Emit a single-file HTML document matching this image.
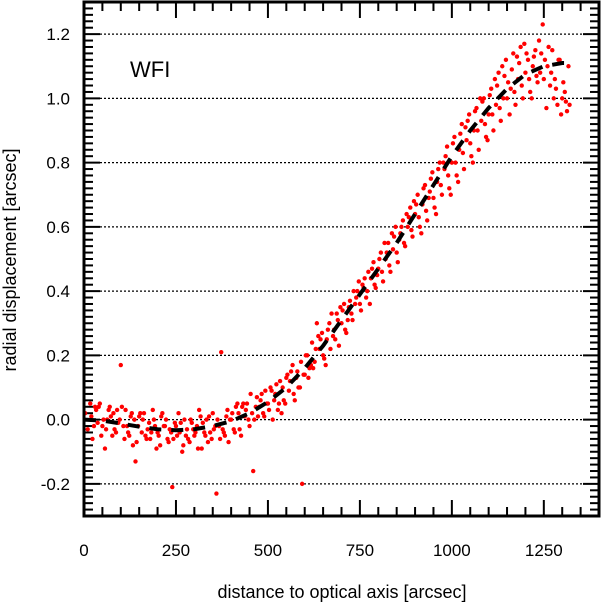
<!DOCTYPE html>
<html><head><meta charset="utf-8">
<style>
html,body{margin:0;padding:0;background:#fff;}
svg text{font-family:"Liberation Sans",Arial,sans-serif;fill:#000;}
</style></head>
<body>
<svg id="chart" width="601" height="603" viewBox="0 0 601 603" xmlns="http://www.w3.org/2000/svg">
<g id="grid"></g>
<g id="ticks"></g>
<g id="pts"></g>
<g id="model"></g>
<rect x="84" y="2" width="515" height="514" fill="none" stroke="#000" stroke-width="3"/>
<g id="labels"></g>
<text x="130" y="77" font-size="22">WFI</text>
<text x="342" y="598" font-size="18" text-anchor="middle">distance to optical axis [arcsec]</text>
<text transform="translate(16,260) rotate(-90)" font-size="18" text-anchor="middle">radial displacement [arcsec]</text>
</svg>
<script>
const xTicks=[0,250,500,750,1000,1250];
const xTickLabels=["0","250","500","750","1000","1250"];
const yTicks=[-0.2,0,0.2,0.4,0.6,0.8,1.0,1.2];
const yTickLabels=["-0.2","0.0","0.2","0.4","0.6","0.8","1.0","1.2"];
const modelX=[0,50,100,150,200,250,300,350,400,450,500,550,600,650,700,750,800,850,900,950,1000,1050,1100,1150,1200,1250,1300,1320];
const modelY=[0,-0.003,-0.012,-0.022,-0.03,-0.033,-0.03,-0.02,-0.005,0.02,0.055,0.1,0.16,0.23,0.31,0.39,0.47,0.55,0.64,0.73,0.82,0.9,0.97,1.03,1.075,1.1,1.11,1.11];
const dist=[20,27,33,40,47,53,60,67,73,80,87,93,100,107,113,120,127,133,140,147,153,160,167,173,180,187,193,200,207,213,220,227,233,240,247,253,260,267,273,280,287,293,300,307,313,320,327,333,340,347,353,360,367,373,380,387,393,400,407,413,420,427,433,440,447,453,460,467,473,480,487,493,500,507,513,520,527,533,540,547,553,560,567,573,580,587,593,600,607,613,620,627,633,640,647,653,660,667,673,680,687,693,700,707,713,720,727,733,740,747,753,760,767,773,780,787,793,800,807,813,820,827,833,840,847,853,860,867,873,880,887,893,900,907,913,920,927,933,940,947,953,960,967,973,980,987,993,1000,1007,1013,1020,1027,1033,1040,1047,1053,1060,1067,1073,1080,1087,1093,1100,1107,1113,1120,1127,1133,1140,1147,1153,1160,1167,1173,1180,1187,1193,1200,1207,1213,1220,1227,1233,1240,1247,1253,1260,1267,1273,1280,1287,1293,1300,1307,1313,1320];
const disp=[0.01,-0.02,0.03,0.04,-0.05,0,-0.03,0.03,0.01,0.02,-0.04,-0.01,0.17,-0.02,0.03,-0.04,0.01,-0.08,-0.13,-0.02,0.02,0,-0.05,-0.03,-0.06,0.03,-0.02,-0.04,-0.08,0.02,-0.02,-0.06,-0.03,-0.21,-0.01,-0.05,-0.04,-0.1,0,-0.03,-0.07,-0.01,-0.05,-0.02,0.03,-0.09,-0.04,0,0.01,-0.06,-0.03,-0.23,-0.02,0.21,-0.04,0.01,-0.07,0,-0.03,0.04,0.02,-0.05,0.05,0.03,0,0.08,-0.16,0.04,0.01,0.06,0.02,0.09,0.05,0.1,0,0.08,0.03,0.12,0.1,0.05,0.14,0.12,0.17,0.06,0.15,0.1,-0.2,0.14,0.2,0.16,0.24,0.18,0.3,0.22,0.27,0.19,0.25,0.3,0.33,0.28,0.33,0.23,0.3,0.36,0.27,0.35,0.33,0.4,0.38,0.43,0.34,0.41,0.38,0.46,0.44,0.49,0.41,0.47,0.52,0.43,0.5,0.55,0.46,0.53,0.6,0.49,0.58,0.62,0.54,0.6,0.66,0.57,0.64,0.7,0.6,0.67,0.73,0.62,0.71,0.77,0.66,0.74,0.8,0.7,0.78,0.85,0.72,0.8,0.88,0.76,0.84,0.92,0.78,0.87,0.95,0.82,0.9,0.97,0.84,0.93,1.0,0.88,0.95,1.03,0.9,0.98,1.08,0.93,1.0,1.12,1.05,1.03,1.14,0.98,1.06,1.16,1.0,1.08,1.12,1.02,1.1,1.15,1.05,1.08,1.23,1.12,1.1,1.04,1.15,1.06,0.98,1.12,1.0,1.02,0.96,0.98];
const dist2=[3,10,17,23,30,37,43,50,57,63,70,77,83,90,97,103,110,117,123,130,137,143,150,157,163,170,177,183,190,197,203,210,217,223,230,237,243,250,257,263,270,277,283,290,297,303,310,317,323,330,337,343,350,357,363,370,377,383,390,397,403,410,417,423,430,437,443,450,457,463,470,477,483,490,497,503,510,517,523,530,537,543,550,557,563,570,577,583,590,597,603,610,617,623,630,637,643,650,657,663,670,677,683,690,697,703,710,717,723,730,737,743,750,757,763,770,777,783,790,797,803,810,817,823,830,837,843,850,857,863,870,877,883,890,897,903,910,917,923,930,937,943,950,957,963,970,977,983,990,997,1003,1010,1017,1023,1030,1037,1043,1050,1057,1063,1070,1077,1083,1090,1097,1103,1110,1117,1123,1130,1137,1143,1150,1157,1163,1170,1177,1183,1190,1197,1203,1210,1217,1223,1230,1237,1243,1250,1257,1263,1270,1277,1283,1290,1297,1303,1310,1317];
const disp2=[0.02,-0.03,0.05,-0.06,0.04,-0.01,0.05,-0.02,-0.09,0,0.04,-0.05,-0.03,0.03,0,0.04,-0.06,-0.02,-0.05,0.02,0,-0.07,0.01,-0.04,0.02,-0.06,-0.01,-0.04,0,-0.09,-0.05,0.01,-0.02,0,-0.07,-0.04,-0.06,-0.02,0.02,-0.01,-0.08,-0.05,-0.06,0,-0.03,-0.04,-0.09,0.01,-0.01,-0.05,-0.07,-0.04,0.02,-0.02,0,-0.06,-0.03,-0.05,0.03,0,0.02,-0.04,0.05,-0.03,0.04,0.01,0.05,-0.02,0.02,0,0.07,0.04,0.08,0.01,0.05,0.03,0.09,0.06,0.11,0.05,0.02,0.06,0.13,0.09,0.15,0.08,0.13,0.1,0.18,0.14,0.2,0.13,0.17,0.16,0.22,0.26,0.25,0.2,0.17,0.28,0.22,0.26,0.25,0.31,0.35,0.34,0.28,0.31,0.37,0.31,0.36,0.4,0.36,0.42,0.44,0.4,0.36,0.47,0.42,0.45,0.5,0.46,0.55,0.52,0.48,0.58,0.57,0.52,0.56,0.6,0.55,0.64,0.63,0.59,0.68,0.67,0.63,0.58,0.72,0.65,0.69,0.75,0.69,0.64,0.78,0.73,0.8,0.82,0.76,0.7,0.86,0.8,0.74,0.89,0.83,0.91,0.93,0.86,0.8,0.96,0.9,1.0,0.99,0.92,0.87,1.01,0.95,1.06,1.04,0.97,1.1,1.07,1.0,0.95,1.09,1.02,1.13,1.11,1.04,1.17,1.14,1.06,1.0,1.13,1.07,1.18,1.14,1.06,0.97,1.16,1.08,1.0,1.03,1.12,0.95,1.05,0.99,1.1];

const NS="http://www.w3.org/2000/svg";
const X0=84,X1=599,Y0=516,Y1=2,xmin=0,xmax=1400,ymin=-0.3,ymax=1.3;
function sx(v){return X0+(v-xmin)/(xmax-xmin)*(X1-X0);}
function sy(v){return Y0-(v-ymin)/(ymax-ymin)*(Y0-Y1);}
function mk(tag,attrs,parent){const e=document.createElementNS(NS,tag);for(const k in attrs)e.setAttribute(k,attrs[k]);parent.appendChild(e);return e;}
const grid=document.getElementById('grid'),ticks=document.getElementById('ticks'),labels=document.getElementById('labels'),pts=document.getElementById('pts'),model=document.getElementById('model');

yTicks.forEach((v,i)=>{
  const g=mk('line',{x1:X0,x2:X1,y1:sy(v),y2:sy(v),stroke:'#000','stroke-width':1.2,'stroke-dasharray':'2,2'},grid);
  
  
  const t=mk('text',{x:70,y:sy(v)+6,'font-size':17,'text-anchor':'end'},labels);
  t.textContent=yTickLabels[i];
  
  
});
for(let k=-15;k<=65;k++){
  const v=k/50; if(v<ymin-1e-9||v>ymax+1e-9)continue;
  const major=(k%10===0);const len=major?16:9;
  mk('line',{x1:X0,x2:X0+len,y1:sy(v),y2:sy(v),stroke:'#000','stroke-width':2},ticks);
  mk('line',{x1:X1-len,x2:X1,y1:sy(v),y2:sy(v),stroke:'#000','stroke-width':2},ticks);
}
for(let v=0;v<=1400;v+=50){
  const major=(v%250===0);const len=major?16:9;
  mk('line',{x1:sx(v),x2:sx(v),y1:Y0,y2:Y0-len,stroke:'#000','stroke-width':2},ticks);
  mk('line',{x1:sx(v),x2:sx(v),y1:Y1,y2:Y1+len,stroke:'#000','stroke-width':2},ticks);
}
xTicks.forEach((v,i)=>{
  const t=mk('text',{x:sx(v),y:556,'font-size':17,'text-anchor':'middle'},labels);
  t.textContent=xTickLabels[i];
  
  
});
function drawPts(xs,ys){
  xs.forEach((d,i)=>{
    const c=mk('circle',{cx:sx(d),cy:sy(ys[i]),r:2.2,fill:'#f00'},pts);
    
    
  });
}
drawPts(dist,disp);
drawPts(dist2,disp2);
const p=mk('polyline',{points:modelX.map((x,i)=>sx(x)+','+sy(modelY[i])).join(' '),fill:'none',stroke:'#000','stroke-width':4,'stroke-dasharray':'12,10'},model);


</script>
</body></html>
